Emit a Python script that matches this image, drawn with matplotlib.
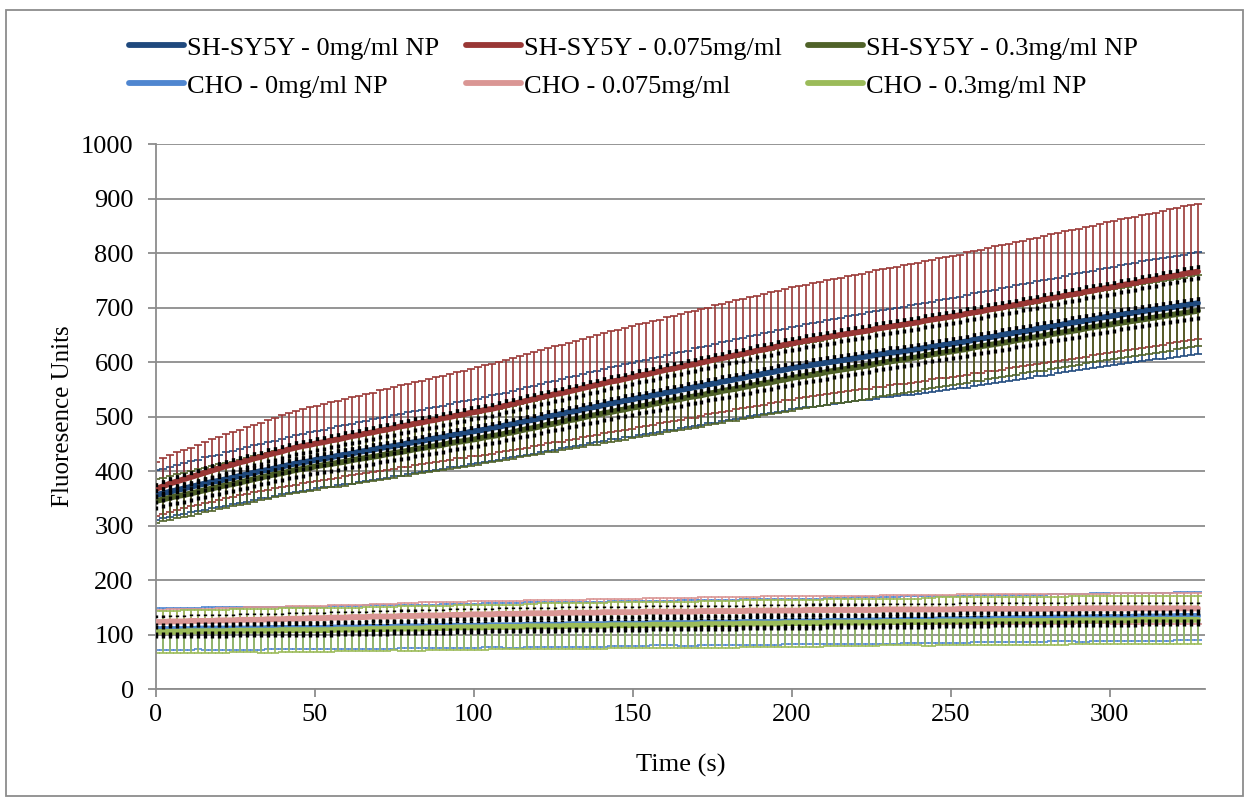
import matplotlib
matplotlib.use("Agg")
import matplotlib.pyplot as plt
from matplotlib import patches

plt.rcParams["font.family"] = ["Liberation Serif", "DejaVu Serif"]

# time points (s)
time_s = [
    0, 2.2, 4.4, 6.6, 8.8, 11, 13.2, 15.4, 17.6, 19.8, 22, 24.2, 26.4, 28.6, 30.8,
    33, 35.2, 37.4, 39.6, 41.8, 44, 46.2, 48.4, 50.6, 52.8, 55, 57.2, 59.4, 61.6, 63.8,
    66, 68.2, 70.4, 72.6, 74.8, 77, 79.2, 81.4, 83.6, 85.8, 88, 90.2, 92.4, 94.6, 96.8,
    99, 101.2, 103.4, 105.6, 107.8, 110, 112.2, 114.4, 116.6, 118.8, 121, 123.2, 125.4, 127.6, 129.8,
    132, 134.2, 136.4, 138.6, 140.8, 143, 145.2, 147.4, 149.6, 151.8, 154, 156.2, 158.4, 160.6, 162.8,
    165, 167.2, 169.4, 171.6, 173.8, 176, 178.2, 180.4, 182.6, 184.8, 187, 189.2, 191.4, 193.6, 195.8,
    198, 200.2, 202.4, 204.6, 206.8, 209, 211.2, 213.4, 215.6, 217.8, 220, 222.2, 224.4, 226.6, 228.8,
    231, 233.2, 235.4, 237.6, 239.8, 242, 244.2, 246.4, 248.6, 250.8, 253, 255.2, 257.4, 259.6, 261.8,
    264, 266.2, 268.4, 270.6, 272.8, 275, 277.2, 279.4, 281.6, 283.8, 286, 288.2, 290.4, 292.6, 294.8,
    297, 299.2, 301.4, 303.6, 305.8, 308, 310.2, 312.4, 314.6, 316.8, 319, 321.2, 323.4, 325.6, 327.8,
]

# SH-SY5Y means
sh_0 = [
    356, 359, 362, 365, 368, 371, 374, 377, 380, 382, 385, 388, 391, 394, 397, 400, 402, 405, 408, 411, 414,
    416, 418, 421, 423, 425, 428, 430, 432, 435, 437, 439, 442, 444, 446, 448, 451, 453, 455, 458, 460,
    462, 465, 467, 469, 472, 474, 476, 479, 481,
    484, 486, 489, 492, 494, 497, 500, 502, 505, 508, 510, 513, 516, 518, 521,
    524, 526, 529, 531, 534, 536, 539, 541, 544, 546, 549, 551, 554, 556, 559, 561, 564, 566, 569, 571,
    574, 576, 579, 581, 584, 586, 589, 591,
    593, 595, 597, 599, 601, 603, 605, 607, 609, 611, 613, 615, 617, 618, 620, 622, 624, 626, 628, 630, 632, 634,
    636, 638, 641, 643, 645, 647, 650, 652, 654, 656, 658, 661, 663, 665, 667, 670, 672, 674, 676, 678, 681, 683,
    685, 687, 689, 691, 693, 695, 697, 698, 700, 702, 704, 706, 708,
]
sh_075 = [
    367, 372, 377, 381, 385, 389, 393, 397, 401, 405, 409, 412, 416, 419, 423, 426, 430, 433, 436, 440, 443,
    446, 448, 451, 453, 456, 458, 461, 464, 466, 469, 471, 474, 476, 479, 482, 484, 487, 489, 492, 494,
    497, 499, 502, 504, 507, 509, 512, 514, 517,
    520, 523, 526, 529, 532, 535, 538, 541, 543, 546, 549, 552, 555, 558, 561,
    564, 566, 569, 572, 575, 577, 580, 583, 586, 588, 591, 594, 596, 599, 602, 605, 607, 610, 613, 615,
    618, 621, 623, 626, 629, 632, 634, 637,
    639, 641, 643, 646, 648, 650, 652, 654, 656, 658, 661, 663, 665, 667, 669, 671, 673, 676, 678, 680, 682, 684,
    686, 689, 691, 693, 696, 698, 700, 703, 705, 707, 710, 712, 715, 717, 719, 722, 724, 726, 729, 731, 734, 736,
    738, 741, 743, 745, 748, 750, 752, 755, 757, 759, 762, 764, 766,
]
sh_03 = [
    345, 348, 351, 354, 356, 359, 362, 365, 368, 371, 374, 376, 379, 382, 385, 388, 391, 394, 396, 399, 402,
    404, 406, 409, 411, 413, 415, 417, 420, 422, 424, 426, 428, 431, 433, 435, 437, 440, 442, 444, 446,
    448, 451, 453, 455, 457, 459, 462, 464, 466,
    469, 471, 474, 477, 479, 482, 485, 487, 490, 493, 495, 498, 501, 503, 506,
    508, 511, 513, 516, 518, 520, 523, 525, 528, 530, 532, 535, 537, 539, 542, 544, 547, 549, 551, 554,
    556, 559, 561, 563, 566, 568, 571, 573,
    575, 577, 579, 582, 584, 586, 588, 590, 592, 594, 597, 599, 601, 603, 605, 607, 609, 612, 614, 616, 618, 620,
    622, 624, 627, 629, 631, 633, 635, 637, 640, 642, 644, 646, 648, 651, 653, 655, 657, 659, 662, 664, 666, 668,
    670, 672, 674, 676, 678, 680, 682, 684, 686, 688, 690, 692, 694,
]

# SH-SY5Y standard deviations
sh_0_sd = [
    45, 45, 46, 46, 47, 47, 47, 48, 48, 48, 49, 49, 49, 50, 50, 50, 51, 51, 51, 52, 52,
    52, 53, 53, 53, 54, 54, 54, 55, 55, 55, 56, 56, 56, 56, 57, 57, 57, 57, 58, 58, 58, 58, 59, 59, 59, 59, 60, 60, 60,
    60, 61, 61, 62, 62, 62, 63, 63, 63, 64, 64, 65, 65, 65, 66,
    66, 67, 67, 68, 68, 68, 69, 69, 69, 70, 70, 70, 71, 71, 71, 72, 72, 72, 73, 73, 73, 74, 74, 74, 75, 75, 76, 76,
    76, 77, 77, 78, 78, 78, 79, 79, 79, 80, 80, 80, 81, 81, 81, 82, 82, 82, 83, 83, 84, 84,
    84, 85, 85, 85, 86, 86, 86, 86, 87, 87, 87, 87, 88, 88, 88, 88, 89, 89, 89, 89, 90, 90,
    90, 91, 91, 91, 92, 92, 92, 93, 93, 93, 93, 94, 94,
]
sh_075_sd = [
    50, 51, 52, 53, 53, 54, 55, 56, 57, 58, 59, 60, 60, 61, 62, 63, 64, 65, 66, 67, 68,
    68, 69, 69, 70, 70, 71, 71, 72, 72, 73, 73, 74, 74, 75, 75, 76, 76, 77, 77, 78, 78, 79, 79, 80, 80, 81, 82, 82, 83,
    84, 84, 85, 86, 86, 87, 87, 88, 89, 89, 90, 90, 91, 92, 92,
    92, 93, 93, 94, 94, 95, 95, 95, 96, 96, 97, 97, 98, 98, 98, 99, 99, 100, 100, 100, 101, 101, 101, 102, 102, 102, 103, 103,
    103, 104, 104, 104, 105, 105, 106, 106, 106, 107, 107, 108, 108, 108, 109, 109, 109, 110, 110, 110, 111, 111,
    111, 112, 112, 113, 113, 114, 114, 114, 115, 115, 116, 116, 116, 117, 117, 118, 118, 118, 119, 119, 120, 120,
    120, 121, 121, 121, 122, 122, 122, 123, 123, 123, 124, 124, 124,
]
sh_03_sd = [
    40, 40, 40, 40, 40, 41, 41, 41, 41, 41, 41, 41, 41, 42, 42, 42, 42, 42, 42, 42, 42,
    42, 43, 43, 43, 43, 44, 44, 44, 44, 44, 45, 45, 45, 45, 45, 46, 46, 46, 46, 46, 47, 47, 47, 47, 47, 48, 48, 48, 48,
    48, 49, 49, 50, 50, 51, 51, 52, 52, 53, 53, 54, 54, 55, 55,
    55, 55, 56, 56, 56, 56, 56, 57, 57, 57, 57, 57, 58, 58, 58, 58, 58, 58, 59, 59, 59, 59, 59, 59, 60, 60, 60, 60,
    60, 60, 60, 60, 60, 61, 61, 61, 61, 61, 61, 61, 61, 61, 62, 62, 62, 62, 62, 62, 62, 62,
    62, 62, 62, 63, 63, 63, 63, 63, 63, 63, 63, 63, 64, 64, 64, 64, 64, 64, 64, 64, 64, 64,
    64, 64, 64, 65, 65, 65, 65, 65, 65, 65, 65, 65, 65,
]

# CHO means
cho_0 = [
    110, 110, 110, 110, 110, 110, 111, 111, 111, 111, 111, 111, 111, 111, 111, 111, 112, 112, 112, 112, 112, 112, 112, 112,
    112, 113, 113, 113, 113, 113, 114, 114, 114, 114, 114, 115, 115, 115, 115, 115, 115, 116, 116, 116, 116, 116, 116, 117, 117, 117, 117,
    117, 117, 118, 118, 118, 118, 118, 118, 119, 119, 119, 119, 119, 119, 120, 120, 120, 120, 120, 120, 121, 121, 121, 121, 121,
    121, 121, 122, 122, 122, 122, 122, 122, 123, 123, 123, 123, 123, 123, 124, 124, 124, 124, 124, 124, 125, 125, 125, 125, 125,
    125, 126, 126, 126, 126, 126, 127, 127, 127, 127, 127, 128, 128, 128, 128, 128, 129, 129, 129, 129, 129, 130, 130, 130, 130,
    130, 130, 131, 131, 131, 131, 131, 131, 132, 132, 132, 132, 132, 132, 133, 133, 133, 133, 133, 133, 134, 134, 134, 134,
]
cho_075 = [
    123, 123, 124, 124, 124, 125, 125, 125, 125, 126, 126, 126, 127, 127, 127, 127, 128, 128, 128, 129, 129, 129, 130, 130,
    130, 131, 131, 131, 132, 132, 132, 133, 133, 133, 133, 134, 134, 134, 135, 135, 135, 135, 136, 136, 136, 137, 137, 137, 137, 138, 138,
    138, 138, 139, 139, 139, 139, 139, 140, 140, 140, 140, 140, 140, 141, 141, 141, 141, 141, 141, 142, 142, 142, 142, 142, 142,
    142, 142, 143, 143, 143, 143, 143, 143, 143, 144, 144, 144, 144, 144, 144, 144, 144, 145, 145, 145, 145, 145, 145, 145, 145,
    145, 145, 145, 146, 146, 146, 146, 146, 146, 146, 146, 146, 146, 146, 147, 147, 147, 147, 147, 147, 147, 147, 147, 147, 147,
    147, 147, 147, 147, 147, 147, 148, 148, 148, 148, 148, 148, 148, 148, 148, 148, 148, 148, 148, 148, 148, 148, 148, 148,
]
cho_03 = [
    105, 105, 105, 105, 106, 106, 106, 106, 106, 106, 106, 107, 107, 107, 107, 107, 107, 107, 108, 108, 108, 108, 108, 108,
    108, 108, 109, 109, 109, 109, 110, 110, 110, 110, 111, 111, 111, 111, 111, 112, 112, 112, 112, 113, 113, 113, 113, 113, 114, 114, 114,
    114, 114, 115, 115, 115, 115, 115, 115, 116, 116, 116, 116, 116, 116, 117, 117, 117, 117, 117, 117, 118, 118, 118, 118, 118,
    118, 118, 119, 119, 119, 119, 119, 119, 120, 120, 120, 120, 120, 120, 121, 121, 121, 121, 121, 121, 122, 122, 122, 122, 122,
    122, 122, 122, 123, 123, 123, 123, 123, 123, 123, 123, 124, 124, 124, 124, 124, 124, 124, 124, 125, 125, 125, 125, 125, 125,
    125, 125, 125, 125, 125, 126, 126, 126, 126, 126, 126, 126, 126, 126, 126, 127, 127, 127, 127, 127, 127, 127, 127, 127,
]

# CHO standard deviations
cho_0_sd = [
    38, 38, 38, 38, 38, 38, 38, 39, 39, 39, 39, 39, 39, 39, 39, 39, 39, 39, 39, 39, 39, 39, 39, 39, 39,
    39, 40, 40, 40, 40, 40, 40, 40, 40, 40, 40, 40, 40, 40, 40, 40, 40, 40, 40, 40, 40, 40, 40, 40, 40,
    41, 41, 41, 41, 41, 41, 41, 41, 41, 41, 41, 41, 41, 41, 41, 41, 41, 41, 41, 41, 41, 41, 41, 41, 41,
    42, 42, 42, 42, 42, 42, 42, 42, 42, 42, 42, 42, 42, 42, 42, 42, 42, 42, 42, 42, 42, 42, 42, 42, 42,
    43, 43, 43, 43, 43, 43, 43, 43, 43, 43, 43, 43, 43, 43, 43, 43, 43, 43, 43, 43, 43, 43, 43, 43, 43,
    43, 43, 43, 43, 43, 43, 43, 44, 44, 44, 44, 44, 44, 44, 44, 44, 44, 44, 44, 44, 44, 44, 44, 44, 44,
]
cho_075_sd = [
    22, 22, 22, 22, 22, 22, 22, 22, 22, 22, 22, 22, 22, 23, 23, 23, 23, 23, 23, 23, 23, 23, 23, 23, 23,
    23, 23, 23, 23, 23, 23, 23, 23, 23, 23, 23, 23, 23, 24, 24, 24, 24, 24, 24, 24, 24, 24, 24, 24, 24,
    24, 24, 24, 24, 24, 24, 24, 24, 24, 24, 24, 24, 25, 25, 25, 25, 25, 25, 25, 25, 25, 25, 25, 25, 25,
    25, 25, 25, 25, 25, 25, 25, 25, 25, 25, 25, 25, 26, 26, 26, 26, 26, 26, 26, 26, 26, 26, 26, 26, 26,
    26, 26, 26, 26, 26, 26, 26, 26, 26, 26, 26, 26, 27, 27, 27, 27, 27, 27, 27, 27, 27, 27, 27, 27, 27,
    27, 27, 27, 27, 27, 27, 27, 27, 27, 27, 27, 27, 28, 28, 28, 28, 28, 28, 28, 28, 28, 28, 28, 28, 28,
]
cho_03_sd = [
    39, 39, 39, 39, 39, 39, 39, 39, 39, 39, 39, 39, 39, 39, 39, 40, 40, 40, 40, 40, 40, 40, 40, 40, 40,
    40, 40, 40, 40, 40, 40, 40, 40, 40, 40, 41, 41, 41, 41, 41, 41, 41, 41, 41, 41, 41, 41, 41, 41, 41,
    41, 41, 41, 41, 41, 42, 42, 42, 42, 42, 42, 42, 42, 42, 42, 42, 42, 42, 42, 42, 42, 42, 42, 42, 42,
    42, 42, 42, 43, 43, 43, 43, 43, 43, 43, 43, 43, 43, 43, 43, 43, 43, 43, 43, 43, 43, 43, 43, 43, 43,
    43, 43, 43, 43, 43, 43, 43, 43, 43, 43, 44, 44, 44, 44, 44, 44, 44, 44, 44, 44, 44, 44, 44, 44, 44,
    44, 44, 44, 44, 44, 44, 44, 44, 44, 44, 44, 44, 44, 44, 44, 44, 44, 44, 44, 44, 44, 44, 44, 44, 44,
]

# small black (dotted) error bar half-heights per group
inner_err = {"SH": 16, "CHO": 12}

labels = ["SH-SY5Y - 0mg/ml NP", "SH-SY5Y - 0.075mg/ml", "SH-SY5Y - 0.3mg/ml NP",
          "CHO - 0mg/ml NP", "CHO - 0.075mg/ml", "CHO - 0.3mg/ml NP"]
colours = ["#1F497D", "#993735", "#4F6228", "#4F86D0", "#DA9694", "#9BBB59"]
means = [sh_0, sh_075, sh_03, cho_0, cho_075, cho_03]
sds = [sh_0_sd, sh_075_sd, sh_03_sd, cho_0_sd, cho_075_sd, cho_03_sd]
groups = ["SH", "SH", "SH", "CHO", "CHO", "CHO"]

FS = 19

fig = plt.figure(figsize=(12.49, 8.01), dpi=100)
ax = fig.add_axes([0.1249, 0.1398, 0.8399, 0.6804])

# error bars first
for y, sd, col in zip(means, sds, colours):
    ax.errorbar(time_s, y, yerr=sd, fmt="none", ecolor=col, elinewidth=1.4,
                capsize=2.6, capthick=1.4, alpha=0.85, zorder=2)

# series lines
lines = []
for y, col, lab in zip(means, colours, labels):
    ln, = ax.plot(time_s, y, color=col, linewidth=4.2, solid_capstyle="round", label=lab, zorder=4)
    lines.append(ln)

# black dotted inner error bars
for y, g in zip(means, groups):
    eb = ax.errorbar(time_s, y, yerr=inner_err[g], fmt="none", ecolor="black",
                     elinewidth=2.4, capsize=0, zorder=5)
    eb[2][0].set_linestyle((0, (1.2, 2.2)))

ax.set_xlim(0, 330)
ax.set_ylim(0, 1000)
ax.set_xticks([0, 50, 100, 150, 200, 250, 300])
ax.set_yticks(range(0, 1001, 100))
ax.grid(axis="y", color="#8C8C8C", linewidth=1.3, zorder=0)
ax.set_axisbelow(True)
for s in ["top", "right"]:
    ax.spines[s].set_visible(False)
for s in ["left", "bottom"]:
    ax.spines[s].set_color("#8C8C8C")
    ax.spines[s].set_linewidth(1.3)
ax.tick_params(axis="both", direction="out", length=6, width=1.3, color="#8C8C8C",
               labelsize=FS, labelcolor="black")
ax.tick_params(axis="y", pad=10)
ax.tick_params(axis="x", pad=5)

ax.set_xlabel("Time (s)", fontsize=FS, labelpad=20)
ax.set_ylabel("Fluoresence Units", fontsize=18, labelpad=5)

# legend filled row by row like the original
order = [0, 3, 1, 4, 2, 5]
fig.legend([lines[i] for i in order], [labels[i] for i in order],
           loc="upper left", bbox_to_anchor=(0.1033, 0.955), ncol=3,
           frameon=False, fontsize=FS, handlelength=2.1, handletextpad=0.1,
           columnspacing=1.0, labelspacing=0.55, borderpad=0, borderaxespad=0)

fig.patches.append(patches.Rectangle((0.005, 0.006), 0.99, 0.981, transform=fig.transFigure,
                                     fill=False, edgecolor="#8C8C8C", linewidth=1.3))

plt.savefig("out.png", dpi=100)
